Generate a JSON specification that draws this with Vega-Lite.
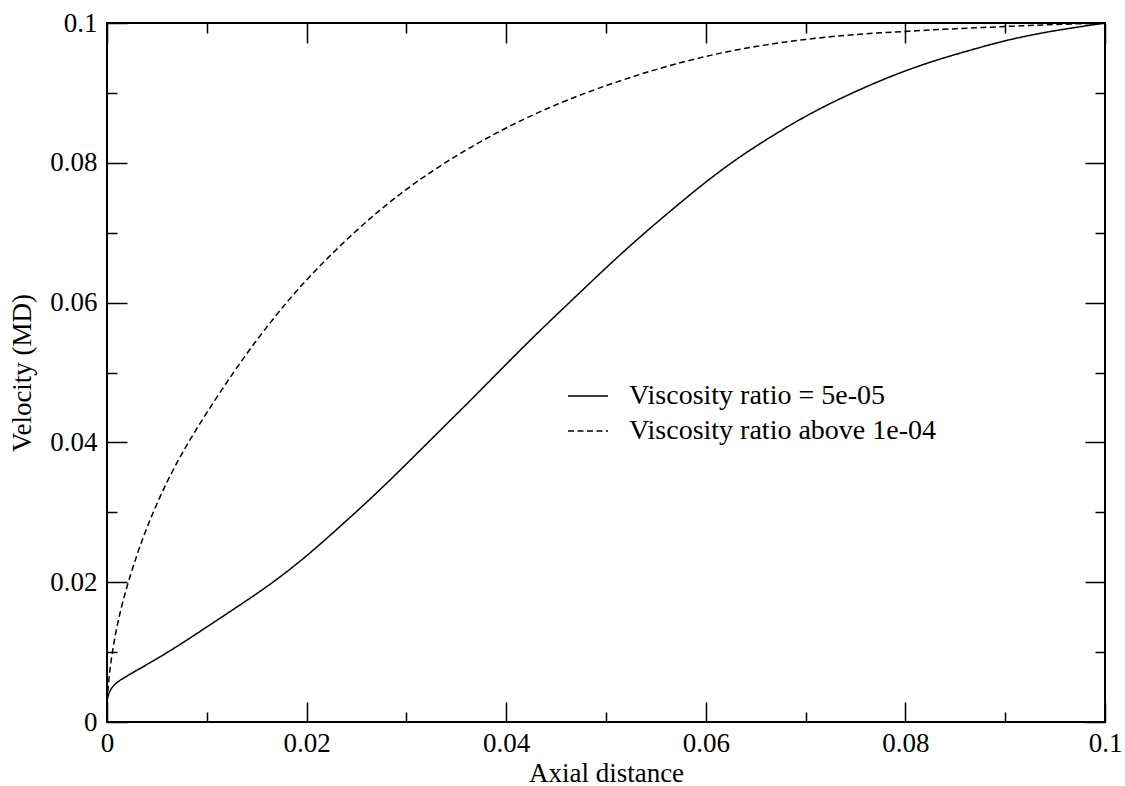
{
  "$schema": "https://vega.github.io/schema/vega-lite/v6.json",
  "width": 998,
  "height": 699,
  "autosize": {"type": "none"},
  "padding": {"left": 107, "top": 23, "right": 20, "bottom": 64},
  "background": "white",
  "config": {
    "view": {"stroke": "black", "strokeWidth": 2},
    "font": "Liberation Serif",
    "axis": {
      "domain": false,
      "grid": false,
      "tickColor": "black",
      "tickWidth": 1.5,
      "labelColor": "black",
      "labelFont": "Liberation Serif",
      "labelFontSize": 27,
      "titleFont": "Liberation Serif",
      "titleFontSize": 27,
      "titleFontWeight": "normal",
      "titleColor": "black",
      "labelFlush": false,
      "labelOverlap": false
    }
  },
  "data": {
    "values": [
      {"x": 0, "y": 0.0031, "s": "Viscosity ratio = 5e-05"},
      {"x": 0.0002, "y": 0.0042, "s": "Viscosity ratio = 5e-05"},
      {"x": 0.0005, "y": 0.005, "s": "Viscosity ratio = 5e-05"},
      {"x": 0.001, "y": 0.0057, "s": "Viscosity ratio = 5e-05"},
      {"x": 0.002, "y": 0.0066, "s": "Viscosity ratio = 5e-05"},
      {"x": 0.004, "y": 0.0082, "s": "Viscosity ratio = 5e-05"},
      {"x": 0.006, "y": 0.0099, "s": "Viscosity ratio = 5e-05"},
      {"x": 0.008, "y": 0.0117, "s": "Viscosity ratio = 5e-05"},
      {"x": 0.01, "y": 0.0136, "s": "Viscosity ratio = 5e-05"},
      {"x": 0.0133, "y": 0.0167, "s": "Viscosity ratio = 5e-05"},
      {"x": 0.0167, "y": 0.02, "s": "Viscosity ratio = 5e-05"},
      {"x": 0.02, "y": 0.0237, "s": "Viscosity ratio = 5e-05"},
      {"x": 0.0233, "y": 0.0279, "s": "Viscosity ratio = 5e-05"},
      {"x": 0.0267, "y": 0.0323, "s": "Viscosity ratio = 5e-05"},
      {"x": 0.03, "y": 0.0369, "s": "Viscosity ratio = 5e-05"},
      {"x": 0.0333, "y": 0.0416, "s": "Viscosity ratio = 5e-05"},
      {"x": 0.0367, "y": 0.0464, "s": "Viscosity ratio = 5e-05"},
      {"x": 0.04, "y": 0.0512, "s": "Viscosity ratio = 5e-05"},
      {"x": 0.0433, "y": 0.0559, "s": "Viscosity ratio = 5e-05"},
      {"x": 0.0467, "y": 0.0605, "s": "Viscosity ratio = 5e-05"},
      {"x": 0.05, "y": 0.065, "s": "Viscosity ratio = 5e-05"},
      {"x": 0.0533, "y": 0.0693, "s": "Viscosity ratio = 5e-05"},
      {"x": 0.0567, "y": 0.0734, "s": "Viscosity ratio = 5e-05"},
      {"x": 0.06, "y": 0.0773, "s": "Viscosity ratio = 5e-05"},
      {"x": 0.0633, "y": 0.0808, "s": "Viscosity ratio = 5e-05"},
      {"x": 0.0667, "y": 0.0839, "s": "Viscosity ratio = 5e-05"},
      {"x": 0.07, "y": 0.0867, "s": "Viscosity ratio = 5e-05"},
      {"x": 0.0733, "y": 0.0891, "s": "Viscosity ratio = 5e-05"},
      {"x": 0.0767, "y": 0.0913, "s": "Viscosity ratio = 5e-05"},
      {"x": 0.08, "y": 0.0932, "s": "Viscosity ratio = 5e-05"},
      {"x": 0.0833, "y": 0.0948, "s": "Viscosity ratio = 5e-05"},
      {"x": 0.0867, "y": 0.0962, "s": "Viscosity ratio = 5e-05"},
      {"x": 0.09, "y": 0.0975, "s": "Viscosity ratio = 5e-05"},
      {"x": 0.0933, "y": 0.0985, "s": "Viscosity ratio = 5e-05"},
      {"x": 0.0967, "y": 0.0993, "s": "Viscosity ratio = 5e-05"},
      {"x": 0.1, "y": 0.1, "s": "Viscosity ratio = 5e-05"},
      {"x": 0, "y": 0.003, "s": "Viscosity ratio above 1e-04"},
      {"x": 0.0002, "y": 0.0065, "s": "Viscosity ratio above 1e-04"},
      {"x": 0.0005, "y": 0.0098, "s": "Viscosity ratio above 1e-04"},
      {"x": 0.001, "y": 0.0138, "s": "Viscosity ratio above 1e-04"},
      {"x": 0.0017, "y": 0.018, "s": "Viscosity ratio above 1e-04"},
      {"x": 0.0027, "y": 0.0227, "s": "Viscosity ratio above 1e-04"},
      {"x": 0.004, "y": 0.028, "s": "Viscosity ratio above 1e-04"},
      {"x": 0.006, "y": 0.0345, "s": "Viscosity ratio above 1e-04"},
      {"x": 0.008, "y": 0.0397, "s": "Viscosity ratio above 1e-04"},
      {"x": 0.01, "y": 0.0443, "s": "Viscosity ratio above 1e-04"},
      {"x": 0.0125, "y": 0.0497, "s": "Viscosity ratio above 1e-04"},
      {"x": 0.015, "y": 0.0547, "s": "Viscosity ratio above 1e-04"},
      {"x": 0.0175, "y": 0.0592, "s": "Viscosity ratio above 1e-04"},
      {"x": 0.02, "y": 0.0634, "s": "Viscosity ratio above 1e-04"},
      {"x": 0.025, "y": 0.0705, "s": "Viscosity ratio above 1e-04"},
      {"x": 0.03, "y": 0.0764, "s": "Viscosity ratio above 1e-04"},
      {"x": 0.035, "y": 0.0811, "s": "Viscosity ratio above 1e-04"},
      {"x": 0.04, "y": 0.0851, "s": "Viscosity ratio above 1e-04"},
      {"x": 0.045, "y": 0.0884, "s": "Viscosity ratio above 1e-04"},
      {"x": 0.05, "y": 0.0911, "s": "Viscosity ratio above 1e-04"},
      {"x": 0.055, "y": 0.0934, "s": "Viscosity ratio above 1e-04"},
      {"x": 0.06, "y": 0.0953, "s": "Viscosity ratio above 1e-04"},
      {"x": 0.065, "y": 0.0967, "s": "Viscosity ratio above 1e-04"},
      {"x": 0.07, "y": 0.0977, "s": "Viscosity ratio above 1e-04"},
      {"x": 0.075, "y": 0.0984, "s": "Viscosity ratio above 1e-04"},
      {"x": 0.08, "y": 0.0988, "s": "Viscosity ratio above 1e-04"},
      {"x": 0.085, "y": 0.0992, "s": "Viscosity ratio above 1e-04"},
      {"x": 0.09, "y": 0.0995, "s": "Viscosity ratio above 1e-04"},
      {"x": 0.095, "y": 0.0998, "s": "Viscosity ratio above 1e-04"},
      {"x": 0.1, "y": 0.1, "s": "Viscosity ratio above 1e-04"}
    ]
  },
  "layer": [
    {
      "mark": {"type": "line", "color": "black", "strokeWidth": 1.5, "interpolate": "basis"},
      "encoding": {
        "x": {
          "field": "x", "type": "quantitative",
          "scale": {"domain": [0, 0.1], "nice": false, "zero": false},
          "axis": {
            "orient": "bottom",
            "title": "Axial distance",
            "values": [0, 0.01, 0.02, 0.03, 0.04, 0.05, 0.06, 0.07, 0.08, 0.09, 0.1],
            "labelExpr": "abs(datum.value*50 - round(datum.value*50)) < 0.001 ? format(datum.value, '~g') : ''",
            "tickSize": {"condition": {"test": "abs(datum.value*50 - round(datum.value*50)) < 0.001", "value": -20}, "value": -10},
            "labelPadding": 28,
            "titlePadding": -6
          }
        },
        "y": {
          "field": "y", "type": "quantitative",
          "scale": {"domain": [0, 0.1], "nice": false, "zero": false},
          "axis": {
            "orient": "left",
            "title": "Velocity (MD)",
            "values": [0, 0.01, 0.02, 0.03, 0.04, 0.05, 0.06, 0.07, 0.08, 0.09, 0.1],
            "labelExpr": "abs(datum.value*50 - round(datum.value*50)) < 0.001 ? format(datum.value, '~g') : ''",
            "tickSize": {"condition": {"test": "abs(datum.value*50 - round(datum.value*50)) < 0.001", "value": -20}, "value": -10},
            "labelPadding": 30,
            "titlePadding": 13
          }
        },
        "strokeDash": {
          "field": "s", "type": "nominal",
          "scale": {"domain": ["Viscosity ratio = 5e-05", "Viscosity ratio above 1e-04"], "range": [[1, 0], [6, 3.5]]},
          "legend": {
            "orient": "none",
            "legendX": 460,
            "legendY": 352,
            "title": null,
            "padding": 0,
            "labelFont": "Liberation Serif",
            "labelFontSize": 28,
            "labelColor": "black",
            "labelLimit": 0,
            "labelOffset": 20,
            "symbolType": "stroke",
            "symbolSize": 1600,
            "symbolStrokeWidth": 1.5,
            "symbolStrokeColor": "black",
            "symbolOffset": 0,
            "rowPadding": -8
          }
        }
      }
    },
    {
      "mark": {"type": "point", "opacity": 0},
      "encoding": {
        "x": {
          "field": "x", "type": "quantitative",
          "scale": {"domain": [0, 0.1], "nice": false, "zero": false},
          "axis": {
            "orient": "top",
            "title": null,
            "labels": false,
            "values": [0, 0.01, 0.02, 0.03, 0.04, 0.05, 0.06, 0.07, 0.08, 0.09, 0.1],
            "tickSize": {"condition": {"test": "abs(datum.value*50 - round(datum.value*50)) < 0.001", "value": -20}, "value": -10}
          }
        },
        "y": {
          "field": "y", "type": "quantitative",
          "scale": {"domain": [0, 0.1], "nice": false, "zero": false},
          "axis": {
            "orient": "right",
            "title": null,
            "labels": false,
            "values": [0, 0.01, 0.02, 0.03, 0.04, 0.05, 0.06, 0.07, 0.08, 0.09, 0.1],
            "tickSize": {"condition": {"test": "abs(datum.value*50 - round(datum.value*50)) < 0.001", "value": -20}, "value": -10}
          }
        }
      }
    }
  ],
  "resolve": {"axis": {"x": "independent", "y": "independent"}}
}
